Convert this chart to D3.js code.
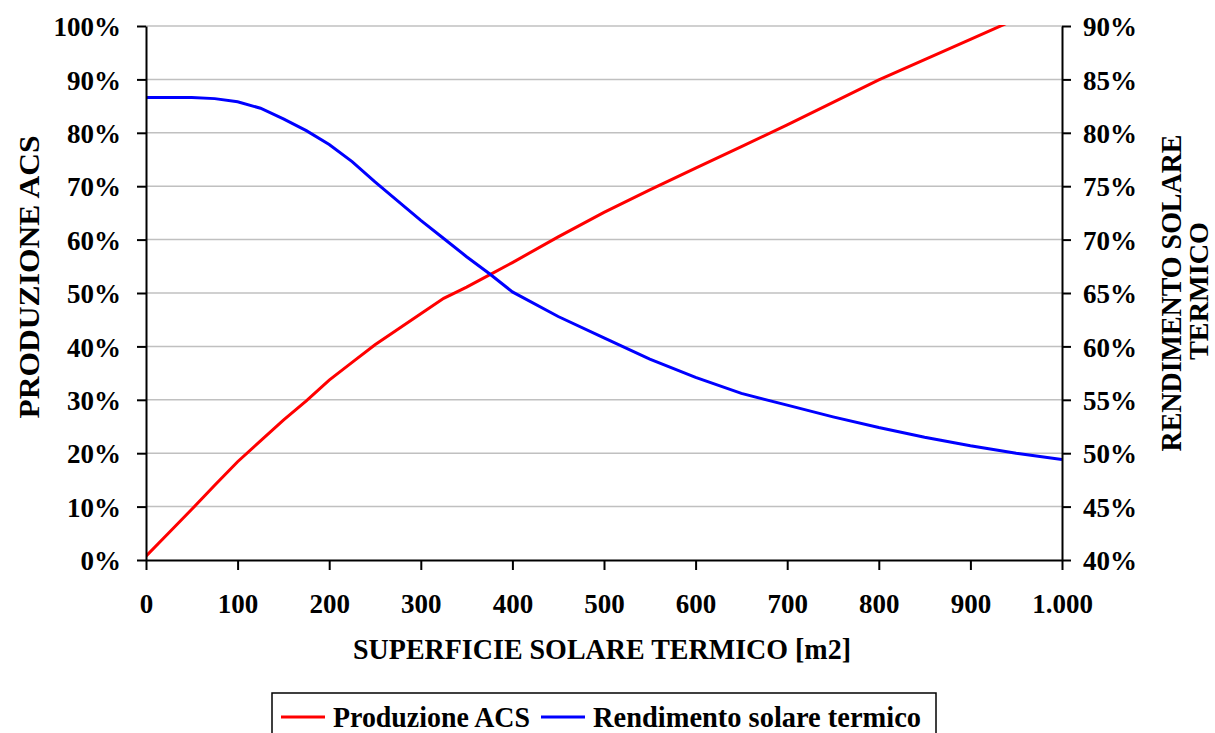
<!DOCTYPE html>
<html>
<head>
<meta charset="utf-8">
<script src="https://cdn.jsdelivr.net/npm/d3@7"></script>
<style>
  body { margin: 0; background: #fff; }
  text { font-family: "Liberation Serif", "Times New Roman", serif; font-weight: bold; fill: #000; }
</style>
</head>
<body>
<script>
// superficie [m2]
const superficie = [0, 25, 50, 75, 100, 125, 150, 175, 200, 225, 250, 275, 300, 325, 350, 375, 400, 450, 500, 550, 600, 650, 700, 750, 800, 850, 900, 950, 1000]
// produzione ACS (asse sinistro)
const produzioneACS = [0.007, 0.051, 0.095, 0.14, 0.184, 0.223, 0.262, 0.298, 0.337, 0.37, 0.403, 0.432, 0.461, 0.49, 0.511, 0.534, 0.557, 0.605, 0.651, 0.693, 0.734, 0.774, 0.815, 0.857, 0.899, 0.937, 0.975, 1.013, 1.05]
// rendimento solare termico (asse destro)
const rendimento = [0.833, 0.833, 0.833, 0.832, 0.829, 0.823, 0.813, 0.802, 0.789, 0.773, 0.754, 0.736, 0.718, 0.701, 0.684, 0.668, 0.651, 0.628, 0.608, 0.588, 0.571, 0.556, 0.545, 0.534, 0.524, 0.515, 0.507, 0.5, 0.494]

const ticksSx = [0, 0.1, 0.2, 0.3, 0.4, 0.5, 0.6, 0.7, 0.8, 0.9, 1]
const ticksDx = [0.4, 0.45, 0.5, 0.55, 0.6, 0.65, 0.7, 0.75, 0.8, 0.85, 0.9]
const ticksX = [0, 100, 200, 300, 400, 500, 600, 700, 800, 900, 1000]

const W = 1215, H = 733
const pL = 146, pR = 1062, pT = 26, pB = 560

const it = d3.formatLocale({decimal: ",", thousands: ".", grouping: [3], currency: ["€", ""]})

const svg = d3.select("body").append("svg")
    .attr("width", W)
    .attr("height", H)

const x = d3.scaleLinear().domain([0, 1000]).range([pL, pR])
const yS = d3.scaleLinear().domain([0, 1]).range([pB, pT])
const yD = d3.scaleLinear().domain([0.4, 0.9]).range([pB, pT])

// griglia
svg.append("g").selectAll("line")
    .data(ticksSx.slice(1))
    .enter().append("line")
    .attr("x1", pL).attr("x2", pR)
    .attr("y1", d => yS(d)).attr("y2", d => yS(d))
    .attr("stroke", "#c0c0c0").attr("stroke-width", 1.5)

svg.append("clipPath").attr("id", "area")
    .append("rect").attr("x", pL).attr("y", pT - 1).attr("width", pR - pL).attr("height", pB - pT + 1)

const lineaS = d3.line().x((d, i) => x(superficie[i])).y(d => yS(d))
const lineaD = d3.line().x((d, i) => x(superficie[i])).y(d => yD(d))

svg.append("path").datum(produzioneACS)
    .attr("d", lineaS)
    .attr("fill", "none").attr("stroke", "#ff0000").attr("stroke-width", 3)
    .attr("clip-path", "url(#area)")

svg.append("path").datum(rendimento)
    .attr("d", lineaD)
    .attr("fill", "none").attr("stroke", "#0000ff").attr("stroke-width", 3)
    .attr("clip-path", "url(#area)")

// assi
const assi = (g) => {
    g.select(".domain").attr("stroke", "#000").attr("stroke-width", 2)
    g.selectAll(".tick line").attr("stroke", "#000").attr("stroke-width", 2)
    g.selectAll("text").attr("font-size", 27).attr("font-family", null).attr("fill", "#000")
}

svg.append("g")
    .attr("transform", `translate(0,${pB})`)
    .call(d3.axisBottom(x).tickValues(ticksX).tickSize(10).tickPadding(24).tickFormat(it.format(",d")).tickSizeOuter(0))
    .call(assi)

svg.append("g")
    .attr("transform", `translate(${pL},0)`)
    .call(d3.axisLeft(yS).tickValues(ticksSx).tickSize(9).tickPadding(16).tickFormat(d3.format(".0%")).tickSizeOuter(0))
    .call(assi)
    .selectAll("text").attr("dy", "0.36em")

svg.append("g")
    .attr("transform", `translate(${pR},0)`)
    .call(d3.axisRight(yD).tickValues(ticksDx).tickSize(9).tickPadding(12).tickFormat(d3.format(".0%")).tickSizeOuter(0))
    .call(assi)
    .selectAll("text").attr("dy", "0.36em")

// titoli
svg.append("text")
    .text("SUPERFICIE SOLARE TERMICO [m2]")
    .attr("x", (pL + pR) / 2 - 2).attr("y", 659)
    .attr("text-anchor", "middle").attr("font-size", 29)
    .attr("textLength", 498).attr("lengthAdjust", "spacingAndGlyphs")

svg.append("text")
    .text("PRODUZIONE ACS")
    .attr("transform", "translate(39,277) rotate(-90)")
    .attr("text-anchor", "middle").attr("font-size", 30)
    .attr("textLength", 283).attr("lengthAdjust", "spacingAndGlyphs")

svg.append("text")
    .text("RENDIMENTO SOLARE")
    .attr("transform", "translate(1181,293) rotate(-90)")
    .attr("text-anchor", "middle").attr("font-size", 29)
    .attr("textLength", 317).attr("lengthAdjust", "spacingAndGlyphs")

svg.append("text")
    .text("TERMICO")
    .attr("transform", "translate(1208,291) rotate(-90)")
    .attr("text-anchor", "middle").attr("font-size", 27)
    .attr("textLength", 138).attr("lengthAdjust", "spacingAndGlyphs")

// legenda
const legenda = svg.append("g")
legenda.append("rect")
    .attr("x", 272).attr("y", 693).attr("width", 664).attr("height", 50)
    .attr("fill", "#fff").attr("stroke", "#000").attr("stroke-width", 1.5)

const voci = [
    {nome: "Produzione ACS", colore: "#ff0000", x: 281, w: 197},
    {nome: "Rendimento solare termico", colore: "#0000ff", x: 541, w: 328}
]
voci.forEach(v => {
    legenda.append("line")
        .attr("x1", v.x).attr("x2", v.x + 44)
        .attr("y1", 717).attr("y2", 717)
        .attr("stroke", v.colore).attr("stroke-width", 3)
    legenda.append("text")
        .text(v.nome)
        .attr("x", v.x + 52).attr("y", 727)
        .attr("font-size", 29)
        .attr("textLength", v.w).attr("lengthAdjust", "spacingAndGlyphs")
})
</script>
</body>
</html>
